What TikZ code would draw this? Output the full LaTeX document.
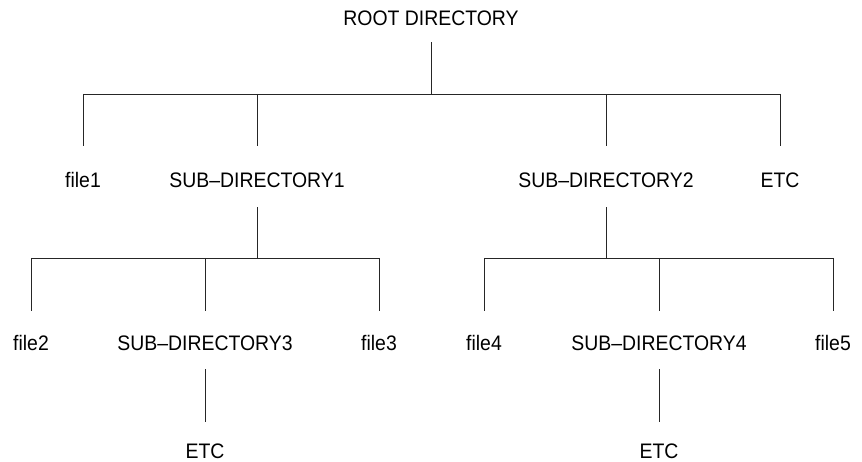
\documentclass[tikz,border=0pt]{standalone}
\usepackage{fontspec}
\setmainfont{Liberation Sans}[FakeStretch=0.925]
\begin{document}
\begin{tikzpicture}[x=1pt,y=-1pt,
  lbl/.style={inner sep=0pt, text height=15pt, text depth=0pt, anchor=base,
    font=\fontsize{21}{21}\selectfont},
  conn/.style={line width=0.9pt, black!85}]
\useasboundingbox (0,0) rectangle (862,462);
% nodes
\node[lbl] (root) at (431,25.5) {ROOT DIRECTORY};
\node[lbl] (f1) at (83,187.5) {file1};
\node[lbl] (s1) at (257,187.5) {SUB--DIRECTORY1};
\node[lbl] (s2) at (606,187.5) {SUB--DIRECTORY2};
\node[lbl] (e1) at (780,187.5) {ETC};
\node[lbl] (f2) at (31,350.5) {file2};
\node[lbl] (s3) at (205,350.5) {SUB--DIRECTORY3};
\node[lbl] (f3) at (379,350.5) {file3};
\node[lbl] (f4) at (484,350.5) {file4};
\node[lbl] (s4) at (659,350.5) {SUB--DIRECTORY4};
\node[lbl] (f5) at (833,350.5) {file5};
\node[lbl] (e3) at (205,458.5) {ETC};
\node[lbl] (e4) at (659,458.5) {ETC};
% junction levels
\coordinate (b0) at (431,94);
\coordinate (b1) at (257,258);
\coordinate (b2) at (606,258);
% root
\draw[conn] (root.south) ++(0,16.5) -- (b0);
\draw[conn] (f1.north |- b0) -- (e1.north |- b0);
\foreach \n in {f1,s1,s2,e1}
  \draw[conn] (\n.north |- b0) -- ([yshift=26.5pt]\n.north);
% sub-directory 1
\draw[conn] (s1.south) ++(0,19.5) -- (b1);
\draw[conn] (f2.north |- b1) -- (f3.north |- b1);
\foreach \n in {f2,s3,f3}
  \draw[conn] (\n.north |- b1) -- ([yshift=24.5pt]\n.north);
% sub-directory 2
\draw[conn] (s2.south) ++(0,19.5) -- (b2);
\draw[conn] (f4.north |- b2) -- (f5.north |- b2);
\foreach \n in {f4,s4,f5}
  \draw[conn] (\n.north |- b2) -- ([yshift=24.5pt]\n.north);
% etc below sub-directories 3 and 4
\draw[conn] (s3.south) ++(0,18.5) -- ([yshift=21.5pt]e3.north);
\draw[conn] (s4.south) ++(0,18.5) -- ([yshift=21.5pt]e4.north);
\end{tikzpicture}
\end{document}
